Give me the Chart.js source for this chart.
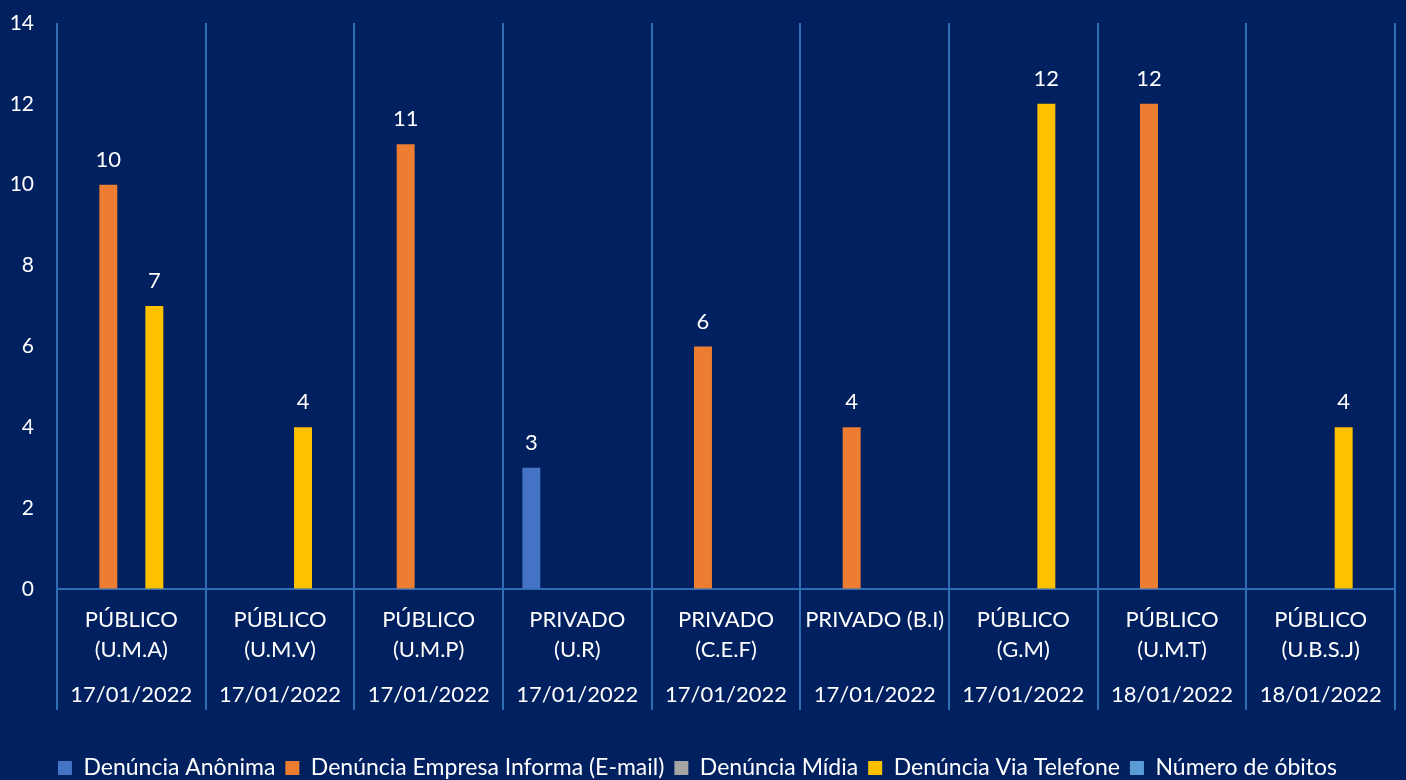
<!DOCTYPE html>
<html>
<head>
<meta charset="utf-8">
<script src="https://cdn.jsdelivr.net/npm/chart.js@4"></script>
<style>
  html, body { margin: 0; padding: 0; background: #002060; }
  #wrap { width: 1406px; height: 780px; }
</style>
</head>
<body>
<div id="wrap"><canvas id="chart"></canvas></div>
<script>
const categories = [
  ['PÚBLICO', '(U.M.A)'],
  ['PÚBLICO', '(U.M.V)'],
  ['PÚBLICO', '(U.M.P)'],
  ['PRIVADO', '(U.R)'],
  ['PRIVADO', '(C.E.F)'],
  ['PRIVADO (B.I)'],
  ['PÚBLICO', '(G.M)'],
  ['PÚBLICO', '(U.M.T)'],
  ['PÚBLICO', '(U.B.S.J)']
];
const dates = ['17/01/2022', '17/01/2022', '17/01/2022', '17/01/2022', '17/01/2022',
               '17/01/2022', '17/01/2022', '18/01/2022', '18/01/2022'];

const anonima  = [0, 0, 0, 3, 0, 0, 0, 0, 0];
const email    = [10, 0, 11, 0, 6, 4, 0, 12, 0];
const midia    = [0, 0, 0, 0, 0, 0, 0, 0, 0];
const telefone = [7, 4, 0, 0, 0, 0, 12, 0, 4];
const obitos   = [0, 0, 0, 0, 0, 0, 0, 0, 0];

const yTicks = [0, 2, 4, 6, 8, 10, 12, 14];

const FONT = 'Lato, "Open Sans", sans-serif';
const gridColor = '#2E6DB4';

// two-level labels: name lines on top, date further down
const labels = categories.map(function (c, i) {
  return [c[0], '', c[1] || '', '', '', dates[i]];
});

const bgPlugin = {
  id: 'bg',
  beforeDraw(chart) {
    const c = chart.ctx;
    c.save();
    c.fillStyle = '#002060';
    c.fillRect(0, 0, chart.width, chart.height);
    c.restore();
  }
};

const valueLabels = {
  id: 'valueLabels',
  afterDatasetsDraw(chart) {
    const c = chart.ctx;
    c.save();
    c.fillStyle = '#ffffff';
    c.font = '22px ' + FONT;
    c.textAlign = 'center';
    c.textBaseline = 'middle';
    chart.data.datasets.forEach(function (ds, i) {
      const meta = chart.getDatasetMeta(i);
      meta.data.forEach(function (bar, j) {
        const v = ds.data[j];
        if (!v) return;
        c.fillText(String(v), bar.x, bar.y - 25);
      });
    });
    c.restore();
  }
};

function series(label, data, color) {
  return {
    label: label,
    data: data,
    backgroundColor: color,
    borderWidth: 0,
    categoryPercentage: 0.774,
    barPercentage: 0.78
  };
}

new Chart(document.getElementById('chart'), {
  type: 'bar',
  data: {
    labels: labels,
    datasets: [
      series('Denúncia Anônima', anonima, '#4472C4'),
      series('Denúncia Empresa Informa (E-mail)', email, '#ED7D31'),
      series('Denúncia Mídia', midia, '#A5A5A5'),
      series('Denúncia Via Telefone', telefone, '#FFC000'),
      series('Número de óbitos', obitos, '#5B9BD5')
    ]
  },
  options: {
    responsive: true,
    maintainAspectRatio: false,
    animation: false,
    layout: { padding: { top: 23, right: 11, left: 0, bottom: -9.5 } },
    plugins: {
      legend: {
        position: 'bottom',
        labels: {
          color: '#ffffff',
          font: { size: 23, family: FONT },
          boxWidth: 14,
          boxHeight: 14,
          padding: 10
        }
      },
      tooltip: { enabled: false }
    },
    scales: {
      x: {
        offset: true,
        grid: { color: gridColor, lineWidth: 2, offset: true, tickLength: 121, tickColor: gridColor },
        border: { display: true, color: gridColor, width: 2 },
        ticks: {
          color: '#ffffff',
          font: { size: 22, family: FONT, lineHeight: '15px' },
          padding: -97.5,
          maxRotation: 0,
          autoSkip: false
        },
        afterFit: function (scale) { scale.height = 157.5; }
      },
      y: {
        min: 0,
        max: 14,
        // invisible tick marks only reserve the gap between labels and plot
        grid: { display: true, drawOnChartArea: false, drawTicks: true, tickLength: 23, tickColor: 'rgba(0,0,0,0)' },
        border: { display: false },
        afterBuildTicks: function (scale) {
          scale.ticks = yTicks.map(function (v) { return { value: v }; });
        },
        ticks: {
          color: '#ffffff',
          font: { size: 21, family: FONT },
          padding: 0
        },
        afterFit: function (scale) { scale.width = 57; }
      }
    }
  },
  plugins: [bgPlugin, valueLabels]
});
</script>
</body>
</html>
